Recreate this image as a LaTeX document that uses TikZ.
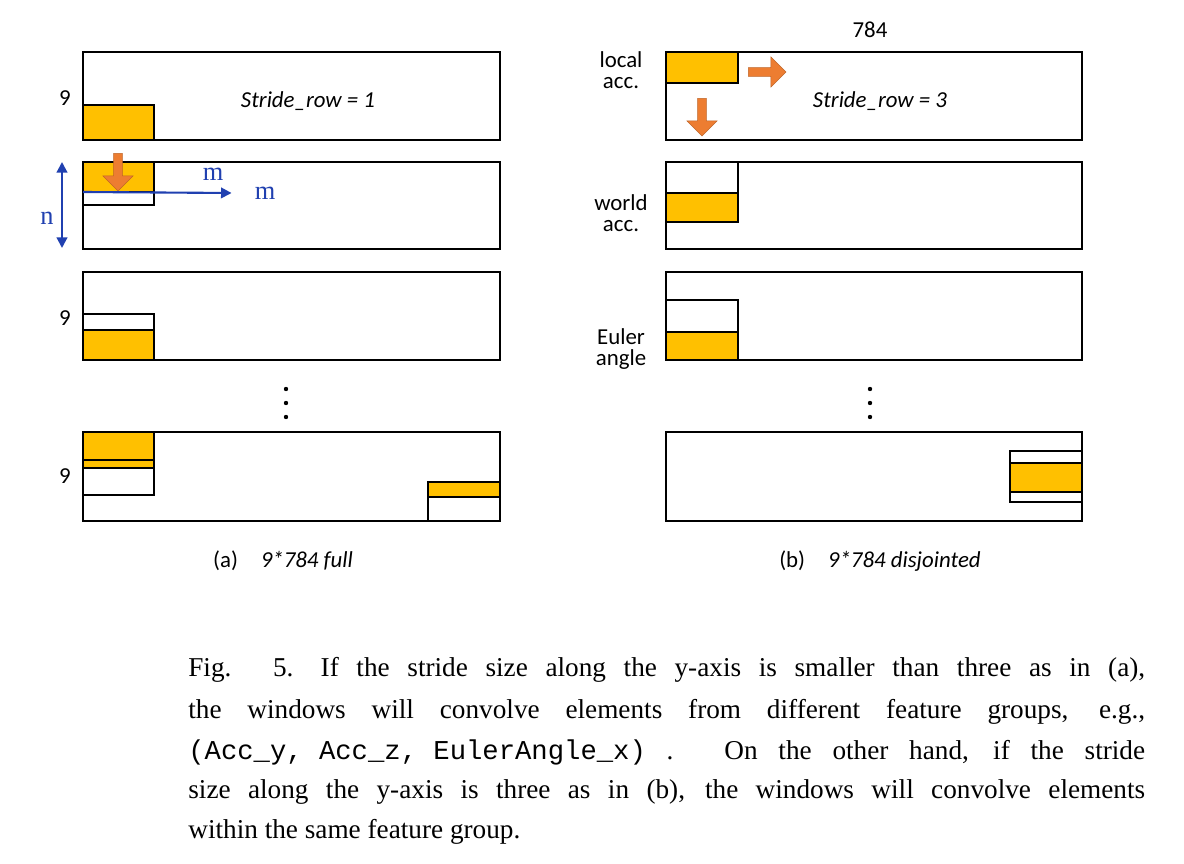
\documentclass[tikz,border=0pt]{standalone}
\usepackage{fontspec}
\setmainfont{Liberation Serif}
\setsansfont{Carlito}
\setmonofont{Liberation Mono}
\usetikzlibrary{shapes.arrows,arrows.meta}
\definecolor{gold}{RGB}{255,192,0}
\definecolor{pumpkin}{RGB}{237,125,49}
\definecolor{inkblue}{RGB}{32,64,176}

\tikzset{
  band/.style={draw=black, line width=1.1pt},
  win/.style={draw=black, line width=1.1pt, fill=gold},
  step arrow/.style={single arrow, fill=pumpkin, draw=pumpkin!80!black, line width=0.3pt,
    minimum height=7.5mm, minimum width=6mm, single arrow head extend=1mm, inner sep=1pt},
  lbl/.style={font=\sffamily\fontsize{13}{13}\selectfont, align=center, inner sep=0pt},
  figline/.style={font=\fontsize{15.5}{20}\selectfont, anchor=west, inner sep=0pt}
}

\begin{document}
\begin{tikzpicture}[x=0.02cm, y=-0.02cm]
      \useasboundingbox (0,0) rectangle (1184,864);
      % (a) full
      \draw[win] (83,105) rectangle (154,140);
      \draw[band] (83,52) rectangle (500,140);
      \node[lbl] (a9top) at (65,98) {9};
      \node[lbl, font=\sffamily\itshape\fontsize{13}{13}\selectfont] (strA) at (308,101) {Stride\_row = 1};
      \draw[band, fill=white] (83,162) rectangle (154,205);
      \draw[win] (83,162) rectangle (154,192);
      \draw[band] (83,162) rectangle (500,249);
      \node[step arrow, rotate=-90] (downA) at (118,170) {};
      \coordinate (mstart) at (83,192);
      \node[inner sep=1pt, text=inkblue, font=\fontsize{15}{15}\selectfont] (mend) at (265,193) {m};
      \draw[inkblue, line width=1.2pt, -{Triangle[length=6pt,width=6pt]}] (mstart) -- ([xshift=-12]mend.west);
      \node[text=inkblue, font=\fontsize{15}{15}\selectfont] (mtop) at (213,174) {m};
      \coordinate (ntop) at (62,162);
      \coordinate (nbot) at (62,248);
      \draw[inkblue, line width=1.2pt, {Triangle[length=6pt,width=6pt]}-{Triangle[length=6pt,width=6pt]}] (ntop) -- (nbot);
      \node[text=inkblue, font=\fontsize{15}{15}\selectfont] (nlbl) at (47,218) {n};
      \draw[band, fill=white] (83,314) rectangle (154,360);
      \draw[win] (83,330) rectangle (154,360);
      \draw[band] (83,272) rectangle (500,360);
      \node[lbl] (a9mid) at (65,318) {9};
      \foreach \d in {389,403,417} \fill (286,\d) circle (2.2);
      \draw[band, fill=white] (83,460) rectangle (154,495);
      \draw[win] (83,432) rectangle (154,468);
      \draw[band] (83,460) -- (154,460);
      \draw[band, fill=white] (428,482) rectangle (500,521);
      \draw[win] (428,482) rectangle (500,497);
      \draw[band] (83,432) rectangle (500,521);
      \node[lbl] (a9bot) at (65,476) {9};
      \node[lbl] (capA) at (283,561) {(a)\quad\itshape 9*784 full};
      % (b) disjointed
      \draw[win] (666,52) rectangle (738,83);
      \draw[band] (666,52) rectangle (1082,140);
      \node[lbl] (n784) at (870,30) {784};
      \node[lbl, font=\sffamily\fontsize{13}{12}\selectfont] (local) at (621,70) {local\\acc.};
      \node[step arrow] (rightB) at (765,72) {};
      \node[step arrow, rotate=-90] (downB) at (702,115) {};
      \node[lbl, font=\sffamily\itshape\fontsize{13}{13}\selectfont] (strB) at (880,101) {Stride\_row = 3};
      \draw[band, fill=white] (666,162) rectangle (738,222);
      \draw[win] (666,193) rectangle (738,222);
      \draw[band] (666,162) rectangle (1082,249);
      \node[lbl, font=\sffamily\fontsize{13}{12}\selectfont] (world) at (621,213) {world\\acc.};
      \draw[band, fill=white] (666,300) rectangle (738,360);
      \draw[win] (666,332) rectangle (738,360);
      \draw[band] (666,272) rectangle (1082,360);
      \node[lbl, font=\sffamily\fontsize{13}{12}\selectfont] (euler) at (621,349) {Euler\\angle};
      \foreach \d in {389,403,417} \fill (870,\d) circle (2.2);
      \draw[band, fill=white] (1010,451) rectangle (1082,502);
      \draw[win] (1010,463) rectangle (1082,492);
      \draw[band] (666,432) rectangle (1082,521);
      \node[lbl] (capB) at (880,561) {(b)\quad\itshape 9*784 disjointed};
      % caption
      \node[figline] (l1) at (188,670) {\makebox[19.14cm][s]{Fig. 5.\quad If the stride size along the y-axis is smaller than three as in (a),}};
      \node[figline] (l2) at (188,712) {\makebox[19.14cm][s]{the windows will convolve elements from different feature groups, e.g.,}};
      \node[figline] (l3) at (188,752) {\makebox[19.14cm][s]{\texttt{(Acc\_y, Acc\_z, EulerAngle\_x)} . On the other hand, if the stride}};
      \node[figline] (l4) at (188,792) {\makebox[19.14cm][s]{size along the y-axis is three as in (b), the windows will convolve elements}};
      \node[figline] (l5) at (188,832) {within the same feature group.};
\end{tikzpicture}
\end{document}
